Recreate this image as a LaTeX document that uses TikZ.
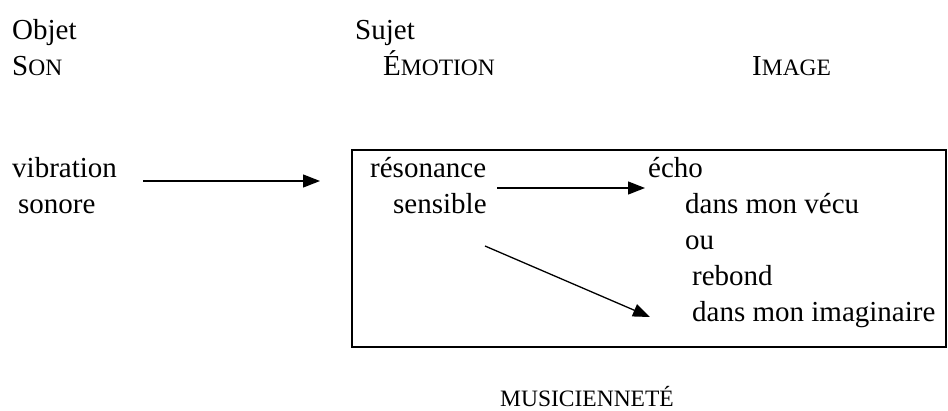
\documentclass[tikz,border=0pt]{standalone}
\usepackage{fontspec}
\setmainfont{Liberation Serif}
\usetikzlibrary{arrows.meta}
\newcommand\bigsz{\fontsize{29}{36}\selectfont}
\newcommand\smsz{\fontsize{23.5}{24}\selectfont}
\tikzset{
  txt/.style={anchor=base west, inner sep=0pt, font=\bigsz},
  smtxt/.style={anchor=base west, inner sep=0pt, font=\smsz},
  arr/.style={line width=1.3pt, -{Triangle[length=17pt,width=13pt]}},
  frame/.style={draw, line width=1.2pt}
}
\begin{document}
\begin{tikzpicture}[x=1pt,y=-1pt]
\useasboundingbox (0,0) rectangle (948,410);
\node[txt] (objet) at (12,39) {Objet};
\node[txt] (sujet) at (355,39) {Sujet};
\node[txt] (son) at (12,75) {S{\smsz ON}};
\node[txt] (emotion) at (383,75) {É{\smsz MOTION}};
\node[txt] (image) at (752,75) {I{\smsz MAGE}};
\draw[frame] (352,150) rectangle (946,347);
\node[txt] (vib) at (12,177) {vibration};
\node[txt] (son2) at (18,213) {sonore};
\node[txt] (reso) at (370,177) {résonance};
\node[txt] (sens) at (393,213) {sensible};
\node[txt] (echo) at (648,177) {écho};
\node[txt] (vecu) at (685,213) {dans mon vécu};
\node[txt] (ou) at (685,249) {ou};
\node[txt] (rebond) at (692,285) {rebond};
\node[txt] (imag) at (692,321) {dans mon imaginaire};
\node[smtxt] (music) at (500,406) {MUSICIENNETÉ};
\coordinate (a1s) at (143,181);
\coordinate (a1e) at (320,181);
\coordinate (a2s) at (497,188);
\coordinate (a2e) at (645,188);
\coordinate (a3s) at (485,246);
\coordinate (a3e) at (650,317);
\draw[arr] (a1s) -- (a1e);
\draw[arr] (a2s) -- (a2e);
\draw[arr] (a3s) -- (a3e);
\end{tikzpicture}
\end{document}
